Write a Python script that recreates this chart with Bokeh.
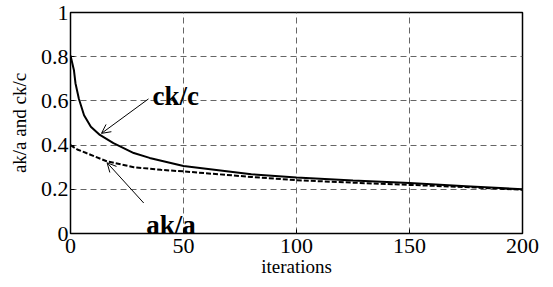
from bokeh.plotting import figure
from bokeh.models import Arrow, OpenHead, Label, FixedTicker
from bokeh.embed import file_html
from bokeh.resources import INLINE

# ck/c (solid)
ck_x = [0, 1.5, 2.2, 3.7, 6, 9, 13, 19, 28, 35, 50, 80, 100, 125, 150, 175, 200]
ck_y = [0.805, 0.74, 0.68, 0.61, 0.535, 0.483, 0.446, 0.409, 0.364, 0.342, 0.305, 0.268, 0.253, 0.24, 0.228, 0.214, 0.20]
# ak/a (dashed)
ak_x = [0, 3, 7, 16, 28, 40, 50, 80, 100, 125, 150, 175, 200]
ak_y = [0.40, 0.38, 0.364, 0.327, 0.30, 0.288, 0.281, 0.256, 0.241, 0.23, 0.22, 0.21, 0.198]

x_ticks = [0, 50, 100, 150, 200]
y_ticks = [0, 0.2, 0.4, 0.6, 0.8, 1]

SERIF = "Liberation Serif"

p = figure(width=545, height=279, x_range=(0, 200), y_range=(0, 1),
           output_backend="svg", toolbar_location=None,
           min_border_left=70, min_border_right=23, min_border_top=12, min_border_bottom=42)

p.outline_line_color = "black"
p.outline_line_width = 1.5
p.outline_line_alpha = 1

for ax in (p.xaxis[0], p.yaxis[0]):
    ax.axis_line_color = None
    ax.major_tick_in = 4
    ax.major_tick_out = 0
    ax.minor_tick_line_color = None
    ax.major_tick_line_color = "black"
    ax.major_label_text_font = SERIF
    ax.major_label_text_font_size = "22px"
    ax.major_label_text_color = "black"
    ax.axis_label_text_font = SERIF
    ax.axis_label_text_font_size = "19px"
    ax.axis_label_text_font_style = "normal"
    ax.axis_label_text_color = "black"

p.xaxis.ticker = FixedTicker(ticks=x_ticks)
p.yaxis.ticker = FixedTicker(ticks=y_ticks)
p.xaxis.major_label_overrides = {0: "0", 50: "50", 100: "100", 150: "150", 200: "200"}
p.yaxis.major_label_overrides = {0: "0", 0.2: "0.2", 0.4: "0.4", 0.6: "0.6", 0.8: "0.8", 1: "1"}
p.xaxis.major_label_standoff = 5
p.yaxis.major_label_standoff = 2
p.xaxis.axis_label = "iterations"
p.yaxis.axis_label = "ak/a and ck/c"
p.xaxis.axis_label_standoff = 0
p.yaxis.axis_label_standoff = 8

for g in (p.xgrid, p.ygrid):
    g.grid_line_color = "#666666"
    g.grid_line_dash = "6 4"
    g.grid_line_width = 1
p.xgrid.ticker = FixedTicker(ticks=x_ticks)
p.ygrid.ticker = FixedTicker(ticks=y_ticks)

p.line(ck_x, ck_y, line_color="black", line_width=2)
p.line(ak_x, ak_y, line_color="black", line_width=2, line_dash="5 2")

p.add_layout(Arrow(end=OpenHead(size=9, line_width=1, line_color="black"),
                   x_start=34.5, y_start=0.609, x_end=13.7, y_end=0.453,
                   line_width=1, line_color="black"))
p.add_layout(Arrow(end=OpenHead(size=9, line_width=1, line_color="black"),
                   x_start=32.4, y_start=0.138, x_end=16.2, y_end=0.32,
                   line_width=1, line_color="black"))

p.add_layout(Label(x=36.3, y=0.622, text="ck/c", text_font=SERIF, text_font_size="27px",
                   text_font_style="bold", text_color="black", text_baseline="alphabetic"))
p.add_layout(Label(x=33.5, y=0.04, text="ak/a", text_font=SERIF, text_font_size="27px",
                   text_font_style="bold", text_color="black", text_baseline="alphabetic"))

open("out.html", "w").write(file_html(p, INLINE))
